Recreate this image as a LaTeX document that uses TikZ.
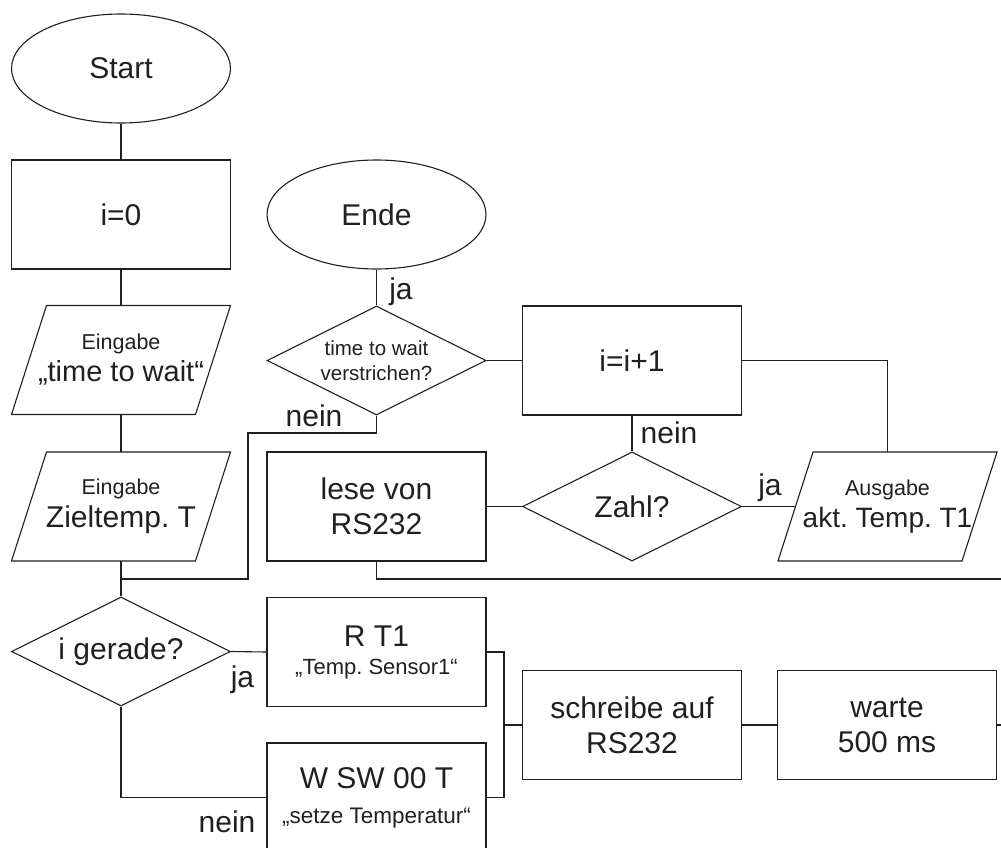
\documentclass[tikz,border=0pt]{standalone}
\usepackage{fontspec}
\setmainfont{Liberation Sans}
\usetikzlibrary{shapes.geometric}
\frenchspacing
\definecolor{ink}{RGB}{35,31,32}
\newcommand\fsetsize[2]{\fontsize{#1}{#2}\selectfont}
\tikzset{
  base/.style={draw=ink, line width=1.1pt, text=ink, inner sep=0pt,
    minimum width=219pt, minimum height=109pt, align=center,
    font=\fsetsize{30}{35}},
  terminal/.style={base, ellipse},
  process/.style={base, rectangle},
  decision/.style={base, diamond, shape aspect=2},
  io/.style={base, rectangle, draw=none, outer sep=0pt},
  flow/.style={draw=ink, line width=1.1pt},
  tag/.style={text=ink, inner sep=0pt, anchor=base, font=\fsetsize{30}{35}}
}
\begin{document}
\begin{tikzpicture}[x=1pt, y=-1pt]
\clip (0,0) rectangle (1001,848);

% left column
\node[terminal] (start) at (121,68.5) {Start};
\node[process]  (i0)    at (121,214.5) {i=0};
\node[io]       (tw)    at (121,360) {{\fsetsize{21.5}{21.5}Eingabe}\\[-3pt]{\fsetsize{29}{29}„time to wait“}};
\node[io]       (zt)    at (121,506.5) {{\fsetsize{21.5}{21.5}Eingabe}\\[-2pt]Zieltemp. T};
\node[decision] (even)  at (121,651.5) {i gerade?};

% second column
\node[terminal] (ende)  at (376.5,214.5) {Ende};
\node[decision, font=\fsetsize{20.5}{25}] (elapsed) at (376.5,360.5) {time to wait\\verstrichen?};
\node[process]  (read)  at (376.5,506.5) {lese von\\RS232};
\node[process]  (rt1)   at (376.5,652) {R T1\\[-7pt]{\fsetsize{22}{22}„Temp. Sensor1“}};
\node[process]  (wsw)   at (376.5,797.5) {W SW 00 T\\{\fsetsize{22.5}{22.5}„setze Temperatur“}};

% third and fourth column
\node[process]  (inc)   at (632,360.5) {i=i+1};
\node[decision] (num)   at (632,506.5) {Zahl?};
\node[io]       (out)   at (887.5,506.5) {{\fsetsize{21.5}{21.5}Ausgabe}\\[-3pt]{\fsetsize{28}{28}akt. Temp. T1}};
\node[process]  (write) at (632,725) {schreibe auf\\RS232};
\node[process]  (wait)  at (887,725) {warte\\500 ms};

% parallelogram outlines of the input/output nodes
\foreach \n in {tw,zt,out}
  \draw[flow] ([xshift=35pt]\n.north west) -- (\n.north east)
    -- ([xshift=-35pt]\n.south east) -- (\n.south west) -- cycle;

% free ends and bends
\coordinate (join)   at (121,579);
\coordinate (loopA)  at (376.5,433);
\coordinate (loopB)  at (248,433);
\coordinate (loopC)  at (248,579);
\coordinate (readA)  at (376.5,579);
\coordinate (readB)  at (1001,579);
\coordinate (incA)   at (887.5,360.5);
\coordinate (busT)   at (504,652);
\coordinate (busM)   at (504,725);
\coordinate (busB)   at (504,797.5);
\coordinate (noA)    at (121,797.5);
\coordinate (waitB)  at (1001,725);

% connectors
\draw[flow] (start) -- (i0);
\draw[flow] (i0) -- (tw);
\draw[flow] (tw) -- (zt);
\draw[flow] (zt.south) -- (even.north);
\draw[flow] (ende) -- (elapsed);
\draw[flow] (elapsed) -- (inc);
\draw[flow] (elapsed.south) -- (loopA) -- (loopB) -- (loopC) -- (join);
\draw[flow] (inc) -- (num);
\draw[flow] (read) -- (num);
\draw[flow] (num.east) -- ([xshift=17.5pt]out.west);
\draw[flow] (inc.east) -- (incA) -- (out.north);
\draw[flow] (read.south) -- (readA) -- (readB);
\draw[flow] (even.east) -- (rt1.west);
\draw[flow] (even.south) -- (noA) -- (wsw.west);
\draw[flow] (rt1.east) -- (busT) -- (busB) -- (wsw.east);
\draw[flow] (busM) -- (write.west);
\draw[flow] (write) -- (wait);
\draw[flow] (wait.east) -- (waitB);

% branch labels
\node[tag] (jaEnde)  at (401,299) {ja};
\node[tag] (neinLoop) at (314,426) {nein};
\node[tag] (neinNum) at (669,443) {nein};
\node[tag] (jaNum)   at (770,495) {ja};
\node[tag] (jaEven)  at (242.5,687) {ja};
\node[tag] (neinEven) at (227,832) {nein};
\end{tikzpicture}
\end{document}
